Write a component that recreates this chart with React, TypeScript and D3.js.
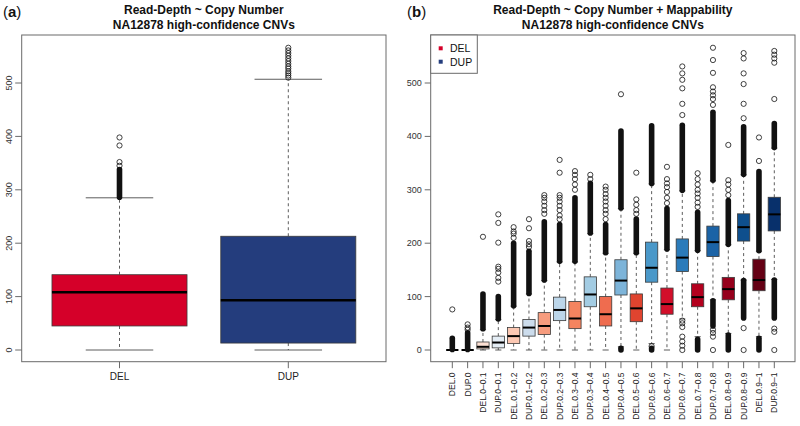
import React from 'react';
import * as d3 from 'd3';

// ---------- Panel (a) data ----------
const catsA = ['DEL', 'DUP'];
const loA = [0, 0];
const q1A = [45, 13];
const medA = [108, 93];
const q3A = [141, 213];
const hiA = [285, 507];
const denseA: [number, number][][] = [[[286, 338]], []];
const outA: number[][] = [
  [345, 352, 383, 398],
  [510, 514, 518, 522, 527, 531, 536, 541, 546, 551, 556, 561, 566],
];
const fillA = ['#d50029', '#243d7d'];

// ---------- Panel (b) data ----------
const catsB = [
  'DEL.0', 'DUP.0', 'DEL.0–0.1', 'DUP.0–0.1', 'DEL.0.1–0.2', 'DUP.0.1–0.2',
  'DEL.0.2–0.3', 'DUP.0.2–0.3', 'DEL.0.3–0.4', 'DUP.0.3–0.4', 'DEL.0.4–0.5',
  'DUP.0.4–0.5', 'DEL.0.5–0.6', 'DUP.0.5–0.6', 'DEL.0.6–0.7', 'DUP.0.6–0.7',
  'DEL.0.7–0.8', 'DUP.0.7–0.8', 'DEL.0.8–0.9', 'DUP.0.8–0.9', 'DEL.0.9–1', 'DUP.0.9–1',
];
const loB = [0, 0, 0, 0, 0, 0, 0, 0, 0, 0, 0, 6, 0, 12, 0, 58, 25, 94, 31, 131, 25, 132];
const q1B = [0, 0, 2, 4, 12, 26, 29, 55, 40, 81, 45, 103, 53, 127, 67, 147, 81, 175, 94, 204, 111, 223];
const medB = [0, 0, 6, 14, 26, 42, 45, 75, 59, 104, 67, 130, 78, 154, 86, 173, 99, 202, 114, 230, 131, 254];
const q3B = [0, 0, 15, 26, 42, 57, 70, 99, 91, 137, 100, 169, 105, 202, 116, 208, 124, 232, 136, 255, 170, 286];
const hiB = [0, 0, 38, 57, 82, 105, 130, 165, 165, 218, 181, 265, 181, 311, 188, 298, 186, 317, 197, 328, 185, 378];
const denseB: [number, number][][] = [
  [[1, 22]],
  [[1, 32]],
  [[40, 105]],
  [[58, 100]],
  [[83, 200]],
  [[106, 185]],
  [[131, 240]],
  [[166, 235]],
  [[166, 285]],
  [[219, 312]],
  [[182, 235]],
  [[266, 410], [0, 3]],
  [[182, 245]],
  [[312, 420], [0, 3]],
  [[189, 265]],
  [[299, 421]],
  [[187, 258], [0, 20]],
  [[318, 445], [45, 92]],
  [[198, 280], [0, 28]],
  [[329, 418], [60, 130]],
  [[186, 334], [0, 22]],
  [[379, 424], [60, 131]],
];
const outB: number[][] = [
  [76],
  [38, 42, 48],
  [212],
  [128, 135, 145, 152, 156, 201, 238, 254],
  [210, 218, 222, 230],
  [193, 198, 204, 228, 245],
  [255, 262, 270, 278, 285, 290],
  [245, 252, 262, 270, 278, 285, 290, 332, 356],
  [300, 310, 320, 328, 335],
  [320, 328],
  [245, 255, 262, 270, 278, 285, 292, 300, 306],
  [479],
  [255, 262, 272, 282, 332],
  [7],
  [275, 285, 296, 305, 312, 320, 343],
  [440, 461, 490, 506, 518, 531, 0, 8, 16, 25, 43, 50, 55],
  [268, 276, 285, 293, 300, 310, 320, 331],
  [459, 470, 477, 484, 492, 519, 543, 566, 0, 25, 32, 38],
  [290, 300, 310, 318, 384],
  [434, 461, 498, 518, 546, 556, 41, 0],
  [354, 398],
  [470, 538, 546, 553, 560, 34, 40, 0],
];
const fillB = [
  '#fff5f0', '#f7fbff', '#fde0d3', '#e4edf5', '#fcc8b3', '#ccdcec',
  '#f79c7e', '#bcd6ea', '#f5845f', '#a3cce3', '#ef6c4f', '#7db4d9',
  '#e0442f', '#4a98c9', '#d30f2a', '#2b7bba', '#b4001e', '#1b63a6',
  '#96001c', '#0e4f8d', '#650014', '#08306b',
];
const legendLabels = ['DEL', 'DUP'];
const yTicks = [0, 100, 200, 300, 400, 500];

const FONT = 'Liberation Sans, Arial, Helvetica, sans-serif';
const FRAME = '#6a6a6a';

type BoxProps = {
  cx: number; w: number; y: d3.ScaleLinear<number, number>;
  lo: number; q1: number; med: number; q3: number; hi: number;
  dense: [number, number][]; outs: number[]; fill: string; medW: number;
};

function Box({ cx, w, y, lo, q1, med, q3, hi, dense, outs, fill, medW }: BoxProps) {
  const cap = w / 2;
  return (
    <g>
      {hi > q3 && <line x1={cx} x2={cx} y1={y(q3)} y2={y(hi)} stroke="#333" strokeWidth={0.8} strokeDasharray="3,3" />}
      {lo < q1 && <line x1={cx} x2={cx} y1={y(q1)} y2={y(lo)} stroke="#333" strokeWidth={0.8} strokeDasharray="3,3" />}
      <line x1={cx - cap / 2} x2={cx + cap / 2} y1={y(hi)} y2={y(hi)} stroke="#333" strokeWidth={0.8} />
      <line x1={cx - cap / 2} x2={cx + cap / 2} y1={y(lo)} y2={y(lo)} stroke="#333" strokeWidth={0.8} />
      <rect x={cx - w / 2} y={y(q3)} width={w} height={Math.max(0, y(q1) - y(q3))} fill={fill} stroke="#3a3a3a" strokeWidth={0.8} />
      <line x1={cx - w / 2} x2={cx + w / 2} y1={y(med)} y2={y(med)} stroke="#000" strokeWidth={medW} />
      {dense.map((d, i) => (
        <line key={'d' + i} x1={cx} x2={cx} y1={y(d[0])} y2={y(d[1])} stroke="#111" strokeWidth={5.6} strokeLinecap="round" />
      ))}
      {outs.map((o, i) => (
        <circle key={'o' + i} cx={cx} cy={y(o)} r={2.6} fill="none" stroke="#111" strokeWidth={0.8} />
      ))}
    </g>
  );
}

export default function App() {
  const y = d3.scaleLinear().domain([0, 500]).range([350, 83]);
  // panel (a)
  const aL = 21.7, aR = 386, top = 35, bot = 361.7;
  const xA = d3.scaleLinear().domain([1, 2]).range([119.5, 288.3]);
  const wA = 0.8 * (xA(2) - xA(1));
  // panel (b)
  const bL = 430.7, bR = 795;
  const xB = d3.scaleLinear().domain([0, 21]).range([452.3, 774.3]);
  const wB = 0.8 * (xB(1) - xB(0));

  return (
    <svg width={800} height={426} style={{ position: 'absolute', left: 0, top: 0, background: '#fff' }} fontFamily={FONT}>
      <rect x={0} y={0} width={800} height={426} fill="#fff" />
      {/* Panel labels */}
      <text x={3} y={17} fontSize={15} fill="#111">(<tspan fontWeight="bold">a</tspan>)</text>
      <text x={407} y={17} fontSize={15} fill="#111">(<tspan fontWeight="bold">b</tspan>)</text>
      {/* Titles */}
      <text x={(aL + aR) / 2} y={14.3} fontSize={12} fontWeight="bold" textAnchor="middle" fill="#111">Read-Depth ~ Copy Number</text>
      <text x={(aL + aR) / 2} y={29.3} fontSize={12} fontWeight="bold" textAnchor="middle" fill="#111">NA12878 high-confidence CNVs</text>
      <text x={(bL + bR) / 2} y={14.3} fontSize={12} fontWeight="bold" textAnchor="middle" fill="#111">Read-Depth ~ Copy Number + Mappability</text>
      <text x={(bL + bR) / 2} y={29.3} fontSize={12} fontWeight="bold" textAnchor="middle" fill="#111">NA12878 high-confidence CNVs</text>

      {/* Panel (a) */}
      {catsA.map((c, i) => (
        <Box key={c} cx={xA(i + 1)} w={wA} y={y} lo={loA[i]} q1={q1A[i]} med={medA[i]} q3={q3A[i]} hi={hiA[i]}
          dense={denseA[i]} outs={outA[i]} fill={fillA[i]} medW={2.5} />
      ))}
      <rect x={aL} y={top} width={aR - aL} height={bot - top} fill="none" stroke={FRAME} strokeWidth={1} />
      {yTicks.map(t => (
        <g key={'ya' + t}>
          <line x1={aL - 6.5} x2={aL} y1={y(t)} y2={y(t)} stroke={FRAME} />
          <text transform={`translate(8.5,${y(t)}) rotate(-90)`} fontSize={9} textAnchor="middle" dominantBaseline="central" fill="#333">{t}</text>
        </g>
      ))}
      {catsA.map((c, i) => (
        <g key={'xa' + c}>
          <line x1={xA(i + 1)} x2={xA(i + 1)} y1={bot} y2={bot + 6.5} stroke={FRAME} />
          <text x={xA(i + 1)} y={380} fontSize={10} textAnchor="middle" fill="#222">{c}</text>
        </g>
      ))}

      {/* Panel (b) */}
      {catsB.map((c, i) => (
        <Box key={c} cx={xB(i)} w={wB} y={y} lo={loB[i]} q1={q1B[i]} med={medB[i]} q3={q3B[i]} hi={hiB[i]}
          dense={denseB[i]} outs={outB[i]} fill={fillB[i]} medW={2} />
      ))}
      <rect x={bL} y={top} width={bR - bL} height={bot - top} fill="none" stroke={FRAME} strokeWidth={1} />
      {yTicks.map(t => (
        <g key={'yb' + t}>
          <line x1={bL - 6} x2={bL} y1={y(t)} y2={y(t)} stroke={FRAME} />
          <text x={421.7} y={y(t)} fontSize={9} textAnchor="end" dominantBaseline="central" fill="#333">{t}</text>
        </g>
      ))}
      {catsB.map((c, i) => (
        <g key={'xb' + c}>
          <line x1={xB(i)} x2={xB(i)} y1={bot} y2={bot + 6.5} stroke={FRAME} />
          <text transform={`translate(${xB(i)},372.5) rotate(-90)`} fontSize={8.5} textAnchor="end" dominantBaseline="central" fill="#222">{c}</text>
        </g>
      ))}
      {/* Legend */}
      <rect x={bL} y={top} width={477.3 - bL} height={73.3 - top} fill="#fff" stroke={FRAME} strokeWidth={1} />
      {legendLabels.map((l, i) => {
        const ly = 48.3 + i * 13.4;
        return (
          <g key={'lg' + l}>
            <rect x={438.7} y={ly - 2} width={4} height={4} fill={fillA[i]} />
            <text x={450} y={ly} fontSize={10.5} dominantBaseline="central" fill="#111">{l}</text>
          </g>
        );
      })}
    </svg>
  );
}
